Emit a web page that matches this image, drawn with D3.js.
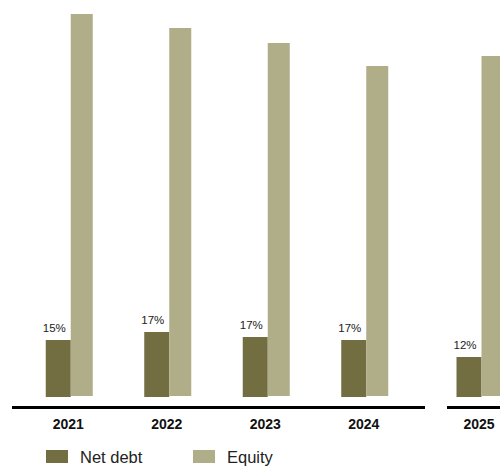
<!DOCTYPE html>
<html>
<head>
  <script src="https://d3js.org/d3.v7.min.js"></script>
  <style>
    body { margin: 0; background: #fff; }
    text { font-family: "Liberation Sans", Arial, sans-serif; }
  </style>
</head>
<body>
<div id="chart"></div>
<script>
  // data (bar heights in chart units)
  const years = ["2021", "2022", "2023", "2024", "2025"];
  const netDebt = [57, 65, 60, 57, 40];
  const equity = [383, 369, 354, 331, 341];
  const shareLabels = ["15%", "17%", "17%", "17%", "12%"];
  const seriesNames = ["Net debt", "Equity"];
  const colors = ["#736e42", "#b0ad89"];

  const W = 500, H = 466;
  const svg = d3.select("#chart").append("svg")
    .attr("width", W).attr("height", H);

  // two panels: 2021-2024 and 2025
  const panels = [
    { years: years.slice(0, 4), range: [20, 414], axis: [12, 425] },
    { years: years.slice(4), range: [431, 529], axis: [447, 500] }
  ];

  const y = d3.scaleLinear().domain([0, 397]).range([397, 0]);
  const ndW = 25, eqW = 22;

  panels.forEach(p => {
    const x = d3.scaleBand().domain(p.years).range(p.range);
    const g = svg.append("g");

    p.years.forEach(yr => {
      const i = years.indexOf(yr);
      const cx = x(yr) + x.bandwidth() / 2;
      const left = cx - (ndW + eqW) / 2;

      g.append("rect")
        .attr("x", left).attr("y", y(netDebt[i]))
        .attr("width", ndW).attr("height", y(0) - y(netDebt[i]))
        .attr("fill", colors[0]);

      g.append("rect")
        .attr("x", left + ndW).attr("y", y(equity[i]))
        .attr("width", eqW).attr("height", y(0) - 1 - y(equity[i]))
        .attr("fill", colors[1]);

      g.append("text")
        .attr("x", left + ndW / 2 - 4)
        .attr("y", y(netDebt[i]) - 8.5)
        .attr("text-anchor", "middle")
        .style("font-size", "11.5px")
        .style("fill", "#222")
        .text(shareLabels[i]);

      g.append("text")
        .attr("x", cx - 1)
        .attr("y", 429)
        .attr("text-anchor", "middle")
        .style("font-size", "14px")
        .style("font-weight", "bold")
        .style("fill", "#111")
        .text(yr);
    });

    // baseline
    g.append("line")
      .attr("x1", p.axis[0]).attr("x2", p.axis[1])
      .attr("y1", 407.5).attr("y2", 407.5)
      .attr("stroke", "#000").attr("stroke-width", 3);
  });

  // legend
  const legend = svg.append("g").attr("transform", "translate(46,450)");
  seriesNames.forEach((name, i) => {
    const lg = legend.append("g").attr("transform", `translate(${i * 147},0)`);
    lg.append("rect").attr("width", 22).attr("height", 13).attr("fill", colors[i]);
    lg.append("text")
      .attr("x", 34).attr("y", 13)
      .style("font-size", "16.5px")
      .style("fill", "#222")
      .text(name);
  });
</script>
</body>
</html>
